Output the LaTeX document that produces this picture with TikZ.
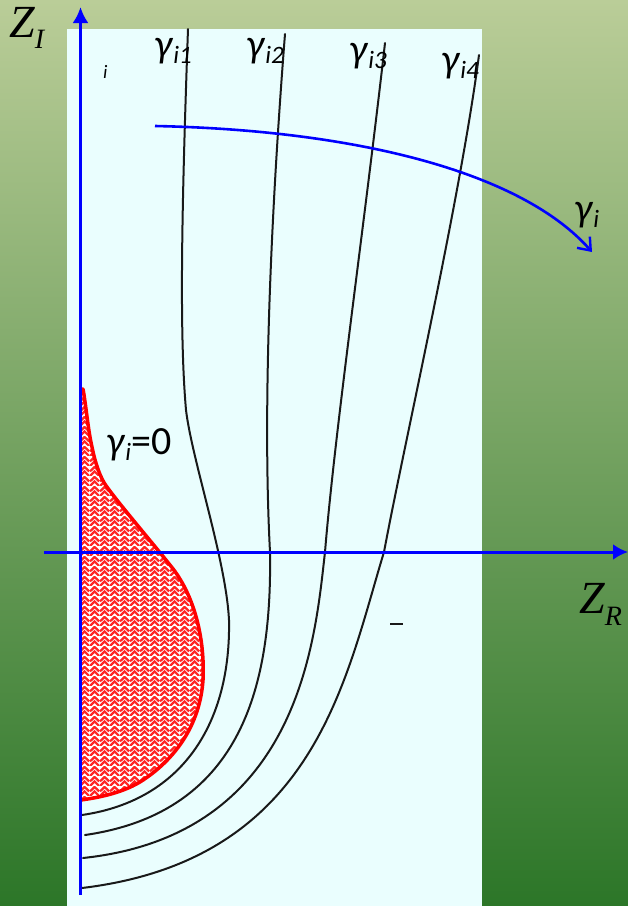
\documentclass[tikz,border=0pt]{standalone}
\usepackage{fontspec}
\setmainfont{Carlito}
\newfontfamily\timesf{Liberation Serif}
\usetikzlibrary{arrows.meta,patterns.meta}
\definecolor{bgtop}{RGB}{186,205,152}
\definecolor{bgmid}{RGB}{122,163,92}
\definecolor{bgbot}{RGB}{44,118,40}
\definecolor{paper}{RGB}{234,254,254}
\definecolor{ink}{RGB}{25,25,25}
\definecolor{axblue}{RGB}{0,0,255}
\tikzdeclarepattern{
  name=weave,
  type=uncolored,
  bounding box={(0pt,0pt) and (10pt,10pt)},
  tile size={(10pt,10pt)},
  code={
    \draw[line width=2.4pt] (0pt,0pt) -- (5pt,5pt) -- (10pt,0pt);
    \draw[line width=2.4pt] (0pt,5pt) -- (5pt,10pt) -- (10pt,5pt);
  }
}
\newcommand{\gl}[1]{\textit{γ}\raisebox{-6pt}{\fontsize{25}{25}\selectfont\textit{#1}}}
\tikzset{
  lab/.style={inner sep=0pt, anchor=base west, font=\fontsize{40}{40}\selectfont},
  zlab/.style={inner sep=0pt, anchor=base west, font=\timesf\itshape\fontsize{46}{46}\selectfont},
  curve/.style={ink, line width=2pt, line cap=round, line join=round},
  axis/.style={axblue, line width=3pt},
  redline/.style={red, line width=3.5pt, line join=round}
}
\begin{document}
\begin{tikzpicture}[x=1pt,y=-1pt]
\useasboundingbox (0,0) rectangle (628,906);
\shade[top color=bgtop, middle color=bgmid, bottom color=bgbot] (0,0) rectangle (628,906);
\fill[paper] (67,29) rectangle (482,906);

% red region gamma_i = 0
\def\redpath{(83,389) .. controls (86,405) and (88,430) .. (92,447)
  .. controls (95,462) and (100,478) .. (107,487)
  .. controls (120,505) and (150,540) .. (170,565)
  .. controls (195,595) and (205,640) .. (203,680)
  .. controls (200,725) and (175,760) .. (140,782)
  .. controls (120,794) and (95,798) .. (81,800)}
\fill[white] (81,389) -- \redpath -- cycle;
\fill[pattern={weave}, pattern color=red!85] (81,389) -- \redpath -- cycle;
\draw[redline] (81,389) -- \redpath;

% level curves
\draw[curve] (188,29) .. controls (182,200) and (179,330) .. (186,410)
  .. controls (192,460) and (226,560) .. (229,620)
  .. controls (231,720) and (185,800) .. (82,815);
\draw[curve] (285,34) .. controls (272,200) and (262,400) .. (270,552)
  .. controls (272,680) and (245,812) .. (85,835);
\draw[curve] (385,43) .. controls (365,220) and (335,430) .. (325,552)
  .. controls (315,640) and (300,835) .. (83,858);
\draw[curve] (479,55) .. controls (460,200) and (405,440) .. (384,552)
  .. controls (345,680) and (315,860) .. (82,888);

% stray mark
\draw[ink, line width=1.5pt] (390,624) -- (403,624);

% axes
\coordinate (yb) at (80.5,895);
\coordinate (yt) at (80.5,7);
\coordinate (xl) at (44,552);
\coordinate (xr) at (628,552);
\draw[axis, -{Latex[length=16pt,width=16pt]}] (yb) -- (yt);
\draw[axis, -{Latex[length=15pt,width=16pt]}] (xl) -- (xr);

% gamma_i arc
\coordinate (a0) at (155,126);
\coordinate (a1) at (592,252);
\draw[axis, line width=2.6pt, -{Straight Barb[length=11pt,width=17pt,line width=2.4pt]}] (a0) .. controls (350,130) and (520,170) .. (a1);

% labels
\node[zlab] (zi) at (9,37) {Z\raisebox{-11pt}{\fontsize{28}{28}\selectfont I}};
\node[zlab] (zr) at (579,613) {Z\raisebox{-12pt}{\fontsize{28}{28}\selectfont R}};
\node[lab] (g1) at (154,57) {\gl{i1}};
\node[lab] (g2) at (246,57) {\gl{i2}};
\node[lab] (g3) at (349,62) {\gl{i3}};
\node[lab] (g4) at (441,72) {\gl{i4}};
\node[lab] (gi) at (574,221) {\gl{i}};
\node[lab] (g0) at (106,454) {\gl{i}=0};
\node[inner sep=0pt, anchor=base west, font=\fontsize{19}{19}\selectfont] (si) at (103,78) {\textit{i}};
\end{tikzpicture}
\end{document}
